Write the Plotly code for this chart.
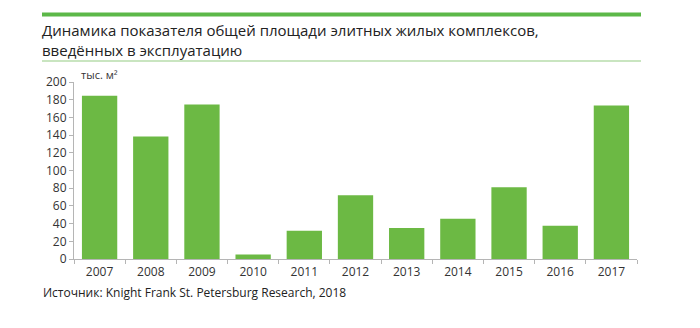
import plotly.graph_objects as go

years = ["2007", "2008", "2009", "2010", "2011", "2012", "2013", "2014", "2015", "2016", "2017"]
values = [184.5, 138.5, 174.5, 5, 32, 72, 35, 45.5, 81, 37.5, 173.5]

title_lines = ["Динамика показателя общей площади элитных жилых комплексов,", "введённых в эксплуатацию"]
unit_text = "тыс. м²"
source_text = "Источник: Knight Frank St. Petersburg Research, 2018"

W, H = 700, 328
L, R, T, B = 74, 63, 82, 69
pw, ph = W - L - R, H - T - B

def px(x):
    return (x - L) / pw

def py(y):
    return (H - B - y) / ph

FONT = "Open Sans"
TXT = "#333333"
BAR = "#6cb944"

fig = go.Figure(go.Bar(x=years, y=values, marker_color=BAR, marker_line_width=0, width=0.69))

annotations = [
    dict(text=t, xref="paper", yref="paper", x=px(41), y=py(yc), xanchor="left", yanchor="middle",
         showarrow=False, align="left", borderpad=0, font=dict(size=15, color="#222222"))
    for t, yc in zip(title_lines, [30, 50])
]
annotations += [
    dict(text=unit_text, xref="paper", yref="paper", x=px(79), y=py(74), xanchor="left", yanchor="middle",
         showarrow=False, font=dict(size=11, color=TXT)),
    dict(text=source_text, xref="paper", yref="paper", x=px(41), y=py(292.5), xanchor="left", yanchor="middle",
         showarrow=False, font=dict(size=12, color="#222222")),
]

fig.update_layout(
    width=W, height=H,
    margin=dict(l=L, r=R, t=T, b=B),
    paper_bgcolor="white", plot_bgcolor="white",
    showlegend=False,
    font=dict(family=FONT, size=12, color=TXT),
    xaxis=dict(
        type="category", showgrid=False, showline=True, linecolor="#b5b5b5", linewidth=1,
        ticks="outside", tickson="boundaries", ticklen=4, tickcolor="#b5b5b5",
        tickfont=dict(size=12, color=TXT), ticklabelstandoff=2,
    ),
    yaxis=dict(
        range=[0, 200], dtick=20, showgrid=False, showline=True, linecolor="#b5b5b5", linewidth=1,
        ticks="outside", ticklen=4, tickcolor="#b5b5b5", zeroline=False,
        tickfont=dict(size=12, color=TXT),
    ),
    shapes=[
        dict(type="line", xref="paper", yref="paper", x0=px(42), x1=px(641), y0=py(14.5), y1=py(14.5),
             line=dict(color="#5cb848", width=4)),
        dict(type="line", xref="paper", yref="paper", x0=px(42), x1=px(641), y0=py(61), y1=py(61),
             line=dict(color="#93cc82", width=1.2)),
    ],
    annotations=annotations,
)

fig.write_html("out.html")
